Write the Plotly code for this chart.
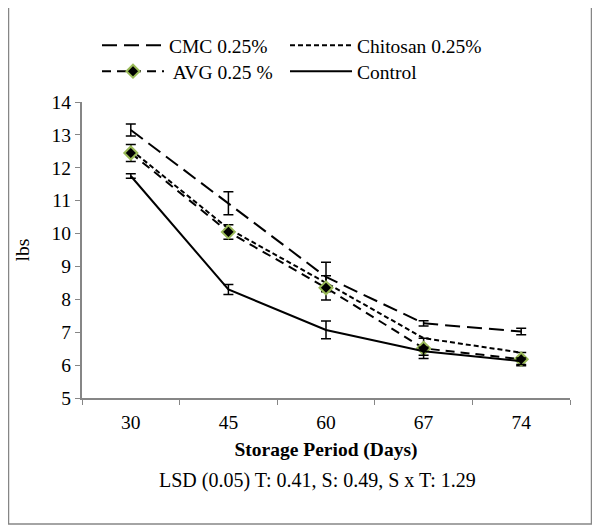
import plotly.graph_objects as go

days = ["30", "45", "60", "67", "74"]
cmc = [13.15, 10.92, 8.68, 7.27, 7.02]
cmc_err = [0.18, 0.35, 0.45, 0.08, 0.10]
chitosan = [12.55, 10.15, 8.50, 6.82, 6.38]
avg = [12.45, 10.05, 8.35, 6.51, 6.18]
avg_err = [0.26, 0.22, 0.37, 0.31, 0.20]
control = [11.75, 8.30, 7.07, 6.42, 6.12]
control_err = [0.07, 0.15, 0.27, 0.12, 0.10]

FONT = "Liberation Serif"
GRAY = "#868686"
OFF = 8  # page body offset

L, T, PW, PH = 82 - OFF, 102 - OFF, 488, 296
W, H = 600 - OFF, 529 - OFF

def px(xs):
    return (xs - OFF - L) / PW

def py(ys):
    return (T + PH - (ys - OFF)) / PH

fig = go.Figure()
fig.add_trace(go.Scatter(
    x=days, y=cmc, name="CMC 0.25%", mode="lines", legend="legend",
    line=dict(color="black", width=2, dash="15px,7px"),
    error_y=dict(type="data", array=cmc_err, color="black", thickness=1.5, width=5),
))
fig.add_trace(go.Scatter(
    x=days, y=chitosan, name="Chitosan 0.25%", mode="lines", legend="legend2",
    line=dict(color="black", width=2, dash="5px,3px"),
))
fig.add_trace(go.Scatter(
    x=days, y=avg, name=" AVG 0.25 %", mode="lines+markers", legend="legend3",
    line=dict(color="black", width=2, dash="9px,6px"),
    marker=dict(symbol="diamond", size=10, color="black",
                line=dict(color="#9BBB59", width=2)),
    error_y=dict(type="data", array=avg_err, color="black", thickness=1.5, width=5),
))
fig.add_trace(go.Scatter(
    x=days, y=control, name="Control", mode="lines", legend="legend4",
    line=dict(color="black", width=2),
    error_y=dict(type="data", array=control_err, color="black", thickness=1.5, width=5),
))

def leg(xp, yp):
    return dict(
        x=px(xp), y=py(yp), xanchor="left", yanchor="top",
        font=dict(family=FONT, size=19.5, color="black"),
        itemwidth=62, bgcolor="rgba(0,0,0,0)",
    )

fig.update_layout(
    width=W, height=H,
    margin=dict(l=L, r=W - L - PW, t=T, b=H - T - PH),
    paper_bgcolor="white", plot_bgcolor="white",
    font=dict(family=FONT, size=20, color="black"),
    showlegend=True,
    legend=leg(97, 26),
    legend2=leg(285, 26),
    legend3=leg(97, 52),
    legend4=leg(285, 52),
    xaxis=dict(
        type="category", range=[-0.5, 4.5], showline=True, linecolor=GRAY, linewidth=2,
        ticks="outside", tickson="boundaries", ticklen=5, tickcolor=GRAY,
        showgrid=False, tickfont=dict(family=FONT, size=19.5), ticklabelstandoff=6,
        title=dict(text="<b>Storage Period (Days)</b>", font=dict(family=FONT, size=19.5), standoff=10),
    ),
    yaxis=dict(
        range=[5, 14], dtick=1, showline=True, linecolor=GRAY, linewidth=2,
        ticks="outside", ticklen=5, tickcolor=GRAY, showgrid=False,
        tickfont=dict(family=FONT, size=19.5), zeroline=False,
        title=dict(text="lbs", font=dict(family=FONT, size=19.5), standoff=17),
    ),
)

fig.add_annotation(
    text="LSD (0.05) T: 0.41, S: 0.49, S x T: 1.29",
    xref="paper", yref="paper", x=px(317), y=py(480),
    xanchor="center", yanchor="middle", showarrow=False,
    font=dict(family=FONT, size=20, color="black"),
)

fig.add_shape(
    type="rect", xref="paper", yref="paper",
    x0=px(8.5), x1=px(591.5), y0=py(524), y1=py(5),
    line=dict(color=GRAY, width=1.5), fillcolor="rgba(0,0,0,0)", layer="below",
)

fig.write_html("out.html")
